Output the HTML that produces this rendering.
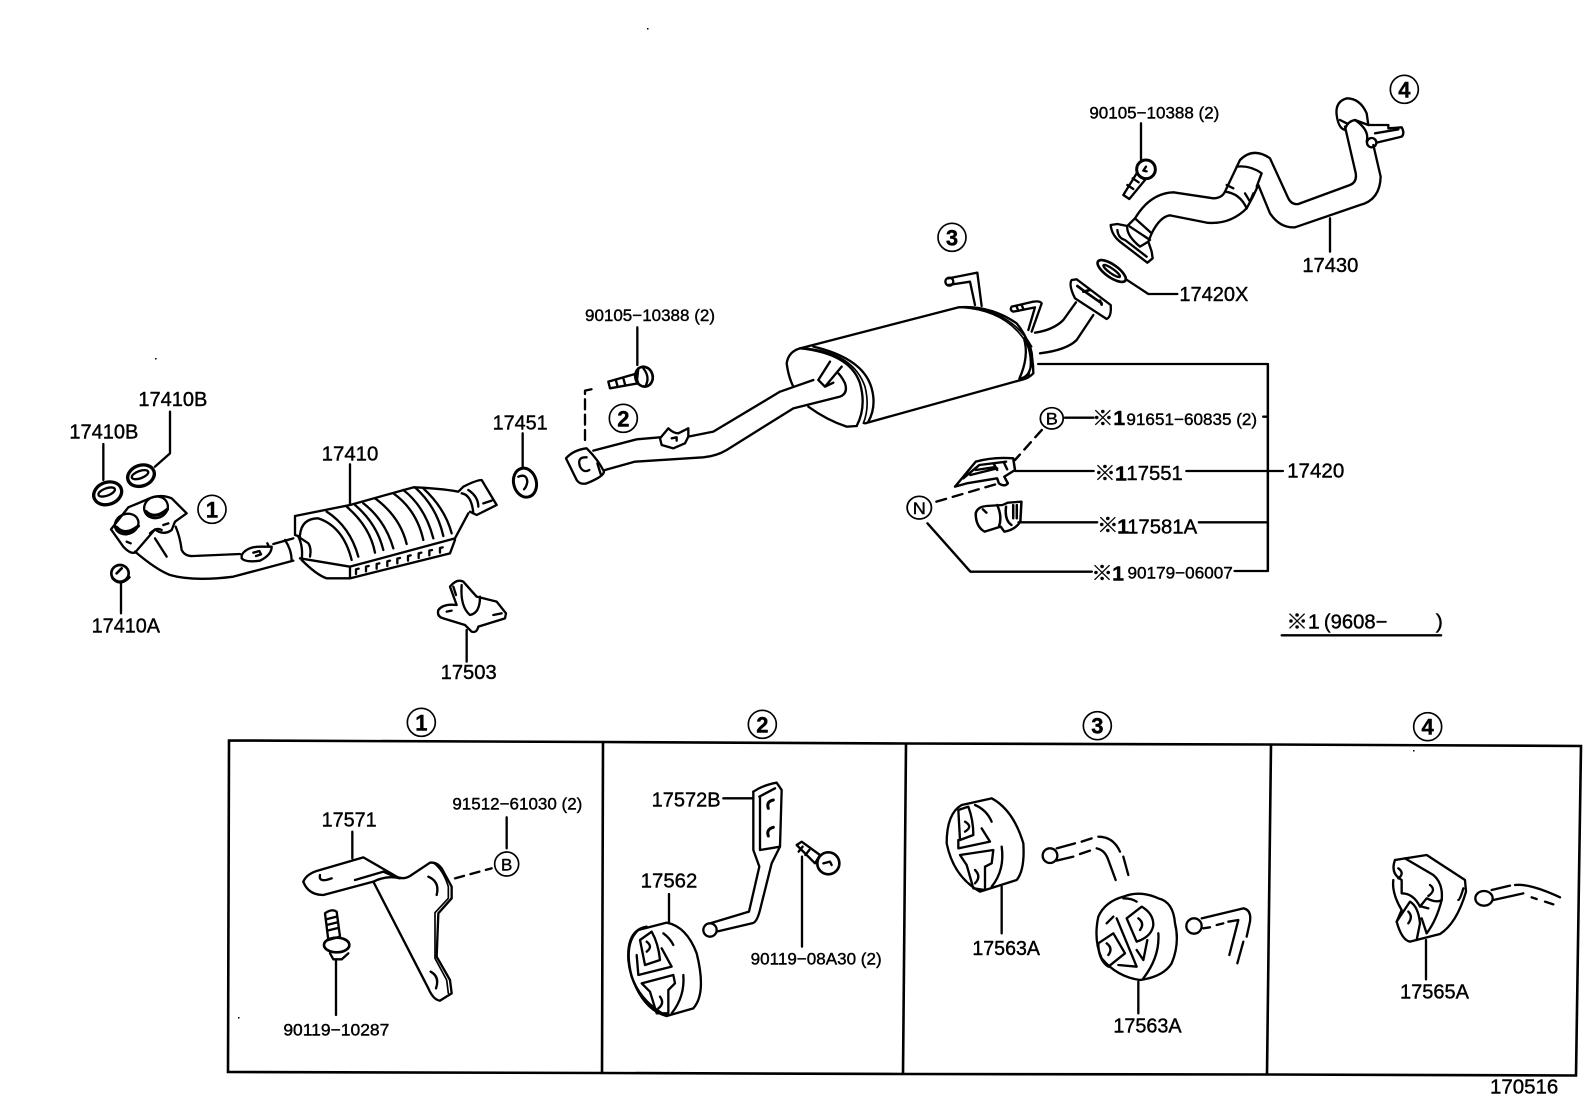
<!DOCTYPE html>
<html><head><meta charset="utf-8"><style>
html,body{margin:0;padding:0;background:#fff;width:1592px;height:1099px;overflow:hidden}
svg{display:block}
.z{fill:none;stroke:#000;stroke-width:7;stroke-linejoin:round;stroke-linecap:round}
.t{stroke-width:5}
text{font-family:"Liberation Sans","Noto Sans CJK JP",sans-serif;fill:#000;stroke:#000;stroke-width:1.2}
.l{font-size:60px}
.s{font-size:51px}
.n{font-size:66px;font-weight:bold;text-anchor:middle}
</style></head><body>
<svg width="1592" height="1099" viewBox="0 0 1592 1099" xmlns="http://www.w3.org/2000/svg">
<rect width="1592" height="1099" fill="#fff"/>

<!-- Frame -->
<g fill="none" stroke="#000" stroke-width="2.6">
<path d="M229 740.5L603 742L905 743.5L1270 744.5L1581 746L1576 1075.5L1268 1074.5L904 1074L602 1073L228 1072Z"/>
<path d="M603 742L602 1073M906 743.5L903 1074M1271 744.5L1267 1074.5"/>
</g>

<!-- Region 1: catalytic converter -->
<g class="z" transform="translate(60,370) scale(.33333)">
<text class="l" x="235" y="108" textLength="207" lengthAdjust="spacingAndGlyphs">17410B</text>
<text class="l" x="28" y="205" textLength="207" lengthAdjust="spacingAndGlyphs">17410B</text>
<text class="l" x="1298" y="178" textLength="165" lengthAdjust="spacingAndGlyphs">17451</text>
<text class="l" x="785" y="272" textLength="170" lengthAdjust="spacingAndGlyphs">17410</text>
<text class="l" x="95" y="788" textLength="205" lengthAdjust="spacingAndGlyphs">17410A</text>
<text class="l" x="1142" y="927" textLength="168" lengthAdjust="spacingAndGlyphs">17503</text>
<path d="M330 125V250L285 290M130 222V330M1388 190V295M870 283V405M183 640V730M1220 780V875"/>
<ellipse cx="143" cy="370" rx="43" ry="33" transform="rotate(-20 143 370)" stroke-width="10"/>
<ellipse cx="140" cy="366" rx="26" ry="11" transform="rotate(-20 140 366)"/>
<ellipse cx="243" cy="317" rx="41" ry="31" transform="rotate(-20 243 317)" stroke-width="10"/>
<ellipse cx="240" cy="314" rx="26" ry="11" transform="rotate(-20 240 314)"/>
<path d="M153 478L205 412Q235 400 262 388Q300 370 335 385L380 430L345 455L335 480Q310 498 285 478L225 548Q210 552 190 530Z"/>
<ellipse cx="200" cy="462" rx="36" ry="30" transform="rotate(-20 200 462)"/>
<ellipse cx="288" cy="412" rx="36" ry="32" transform="rotate(-20 288 412)"/>
<path d="M170 472Q195 500 235 468M258 425Q285 450 322 418" stroke-width="10"/>
<path d="M270 490Q290 470 305 480M200 515l12 5M310 465l15-5"/>
<path d="M347 470Q360 500 365 540Q375 560 400 558L540 552"/>
<path d="M225 545Q290 600 330 615Q400 635 520 620L700 572"/>
<path d="M285 505L320 560"/>
<path d="M545 555Q560 530 600 530L635 530Q635 555 600 572Q555 578 545 565Z"/>
<path d="M580 548l18-5 5 10-15 5M622 520l5 10"/>
<path d="M640 522L700 505M675 510Q695 540 695 572M715 500Q730 530 725 570M715 500L745 520Q755 535 750 560"/>
<path d="M705 438V495L720 500M705 438L870 405L1060 352Q1140 355 1195 365L1210 350Q1250 330 1265 330L1310 405L1250 435L1230 425"/>
<path d="M720 495Q725 445 775 445Q850 470 875 570"/>
<path d="M800 425Q870 470 895 560M860 410Q930 470 945 548M885 405Q950 460 970 540M910 400Q975 450 1000 535M945 385Q1020 440 1040 522M1000 370Q1070 420 1090 510M1030 360Q1095 410 1120 505M1065 352Q1130 410 1150 498M1090 355Q1155 415 1175 490"/>
<path d="M720 565L870 590L1185 505L1225 430M870 590V625L1170 550L1185 510M725 570Q770 615 800 625L870 625"/>
<path d="M888 612V598l8-2M918 604V590l8-2M950 596V582l8-2M982 588V574l8-2M1012 580V566l8-2M1044 572V558l8-2M1076 564V550l8-2M1108 556V542l8-2M1140 548V534l8-2"/>
<path d="M1205 370Q1235 375 1240 430M1225 360Q1255 380 1255 410M1270 400l25-8"/>
<ellipse cx="1395" cy="338" rx="34" ry="44" transform="rotate(-15 1395 338)" stroke-width="9"/>
<path d="M1375 320Q1400 310 1402 335Q1400 350 1392 358"/>
<ellipse cx="180" cy="610" rx="26" ry="25" stroke-width="8"/>
<path d="M158 625Q180 650 208 622M170 610l15-15" stroke-width="8"/>
<path d="M1135 720Q1150 700 1190 705L1170 650Q1190 625 1210 635L1250 680L1310 695L1338 730L1335 745L1255 770Q1250 790 1235 785L1215 765L1150 745Q1130 740 1135 720Z"/>
<path d="M1205 645Q1200 710 1230 735Q1260 730 1260 680M1180 650l8 25M1300 735l25-5M1160 725l15-3"/>
<circle class="t" cx="456" cy="418" r="42"/>
<text class="n" x="456" y="442">1</text>
</g>

<!-- Region 2: mid pipe and muffler -->
<g class="z" transform="translate(540,220) scale(.33333)">
<text class="s" x="135" y="303" textLength="390" lengthAdjust="spacingAndGlyphs">90105−10388 (2)</text>
<path d="M292 322V435"/>
<path d="M205 485L285 462L295 490L210 505Z"/>
<path d="M228 482l5 18M250 475l5 18" />
<ellipse cx="312" cy="470" rx="26" ry="30" transform="rotate(-15 312 470)" stroke-width="8"/>
<path d="M295 445L290 490M310 445Q330 470 318 495"/>
<path d="M135 660V512L168 505" stroke-dasharray="30 16"/>
<circle class="t" cx="250" cy="595" r="42"/>
<text class="n" x="250" y="619">2</text>
<path d="M78 715Q100 690 140 685Q175 720 192 755Q190 770 140 790Q120 795 110 780Z"/>
<path d="M140 712Q110 710 120 740Q130 760 148 750M172 730l10 32"/>
<path d="M160 692L290 658L360 652M445 650L520 635L720 515L820 480"/>
<path d="M195 750L285 725L490 712Q530 708 560 690L760 565L900 530Q925 520 915 490Q905 470 895 460"/>
<path d="M360 655L385 625Q400 640 415 640L445 625L445 650L435 670L400 685L365 675Z"/>
<path d="M395 655l15-3 0 10"/>
<path d="M835 480L870 425M855 500L905 440M835 480L855 500L880 488"/>
<path d="M780 385Q745 395 740 430Q745 470 760 500M805 560Q860 600 920 620L950 618"/>
<path d="M780 385L1255 262Q1350 255 1430 310Q1480 370 1480 460Q1465 475 1450 478L975 610"/>
<path d="M780 385Q930 400 960 490Q980 560 950 618"/>
<path d="M800 385Q940 400 975 500Q990 560 970 610" stroke-width="5"/>
<path d="M820 380Q970 415 995 505Q1010 560 985 605"/>
<path d="M1260 262Q1400 270 1460 370Q1480 420 1465 470" stroke-width="5"/>
<path d="M1290 262Q1420 280 1475 380" stroke-width="5"/>
<path d="M1305 255L1290 185L1225 195M1325 258L1312 158L1225 175"/>
<circle cx="1228" cy="185" r="12"/>
<circle class="t" cx="1236" cy="52" r="42"/>
<text class="n" x="1236" y="76">3</text>
</g>

<!-- Muffler outlet -->
<g class="z" transform="translate(1000,270) scale(.33333)">
<path d="M95 185L125 100Q120 92 100 95L35 110Q28 120 40 125L105 112L85 180"/>
<path d="M50 110l5 12M65 105l5 12"/>
<path d="M105 188Q160 180 190 150L228 97M120 250Q200 240 230 210L280 135"/>
<path d="M215 30Q205 45 225 85L320 147Q335 140 332 105L230 28Z"/>
<path d="M232 48L255 65L305 100M250 65L270 60M300 92l5 12" stroke-width="8"/>
<path d="M72 205Q88 260 58 326M80 210Q110 260 85 310Q75 325 58 326"/>
</g>

<!-- Region 3: tail pipe -->
<g class="z" transform="translate(1040,70) scale(.33333)">
<text class="s" x="148" y="145" textLength="390" lengthAdjust="spacingAndGlyphs">90105−10388 (2)</text>
<text class="l" x="787" y="606" textLength="168" lengthAdjust="spacingAndGlyphs">17430</text>
<text class="l" x="418" y="693" textLength="207" lengthAdjust="spacingAndGlyphs">17420X</text>
<path d="M303 160V270M870 445V545M258 628L325 672H412"/>
<path d="M250 375L290 310L315 330L268 387Z"/>
<path d="M262 345l18 12M278 325l18 12"/>
<circle cx="318" cy="298" r="28" stroke-width="9"/>
<path d="M318 290l-8 12 10 2"/>
<ellipse cx="215" cy="603" rx="50" ry="19" transform="rotate(35 215 603)" stroke-width="8"/>
<ellipse cx="215" cy="603" rx="30" ry="7" transform="rotate(35 215 603)"/>
<path d="M212 465L232 462L262 468M212 465Q215 495 240 515L322 578L338 565L335 545L325 515"/>
<path d="M232 480Q235 505 255 510L320 560"/>
<path d="M262 468Q258 495 300 530L325 515L335 490M285 445L262 468M270 470L330 510M285 445L335 490"/>
<path d="M285 445Q330 370 400 367L520 385Q545 385 555 365L600 270Q640 230 690 265L745 385Q755 405 775 402L930 345Q955 335 945 300L915 170"/>
<path d="M335 490Q360 440 390 436L500 458Q570 465 620 415Q640 380 655 345L690 430Q720 475 765 472L960 405Q1020 390 1022 320L1000 225"/>
<path d="M590 290Q630 285 665 310L650 350M555 365Q600 370 620 415M615 370l15 25 10-25M560 345l20 10"/>
<path d="M980 130Q960 85 920 85Q885 95 890 135Q895 175 915 180Q920 155 945 150L985 165M980 130L985 165"/>
<path d="M985 165L1045 165L1045 175L1085 172Q1095 190 1085 200L1010 218M945 150Q990 180 980 215"/>
<path d="M1005 190L1075 178M900 150l20 10"/>
<circle cx="995" cy="218" r="14" stroke-width="7"/>
<circle class="t" cx="1093" cy="58" r="42"/>
<text class="n" x="1093" y="82">4</text>
</g>

<!-- Region 4: 17420 parts list -->
<g class="z" transform="translate(890,350) scale(.35714,.33333)">
<path d="M415 42H1058V663H965M490 203H570M1045 200H1058M350 363H570M830 363H1100M360 517H580M865 517H1058M105 520L225 665H565"/>
<circle class="t" cx="453" cy="205" r="32"/>
<text class="s" x="453" y="224" text-anchor="middle">B</text>
<circle class="t" cx="82" cy="473" r="34"/>
<text class="s" x="82" y="492" text-anchor="middle">N</text>
<path d="M425 240L350 330M130 455L305 400" stroke-dasharray="28 20"/>
<text class="l" x="1112" y="383" textLength="160" lengthAdjust="spacingAndGlyphs">17420</text>
<text class="l" x="566" y="225">※</text>
<text class="l" x="625" y="225" font-weight="bold">1</text>
<text class="s" x="662" y="225" textLength="366" lengthAdjust="spacingAndGlyphs">91651−60835 (2)</text>
<text class="l" x="572" y="390">※</text>
<text class="l" x="630" y="392" font-weight="bold">1</text>
<text class="l" x="662" y="390" textLength="158" lengthAdjust="spacingAndGlyphs">17551</text>
<text class="l" x="580" y="546">※</text>
<text class="l" x="636" y="550" font-weight="bold">1</text>
<text class="l" x="664" y="550" textLength="196" lengthAdjust="spacingAndGlyphs">17581A</text>
<text class="l" x="564" y="690">※</text>
<text class="l" x="622" y="692" font-weight="bold">1</text>
<text class="s" x="665" y="686" textLength="295" lengthAdjust="spacingAndGlyphs">90179−06007</text>
<text class="l" x="1110" y="835">※</text>
<text class="l" x="1170" y="835">1</text>
<text class="l" x="1215" y="835" textLength="178" lengthAdjust="spacingAndGlyphs">(9608−</text>
<text class="l" x="1528" y="835">)</text>
<path d="M1097 856H1543" stroke-width="7"/>
<path d="M182 410L240 335Q290 320 345 325L350 360L320 380L330 400Q320 412 305 400L300 385L215 400Z"/>
<path d="M205 385L250 345L325 335M225 375L300 355M240 360l50-8M290 340l10 20M320 340l8 18"/>
<path d="M240 490Q245 470 270 468L315 465L330 458L368 455L365 515Q350 540 320 545L310 530L265 545Q240 530 240 490Z"/>
<path d="M300 465Q315 500 305 530M325 470Q320 510 340 525M345 465l0 40M355 465l0 40M260 478l10 10"/>
</g>

<!-- Inset 1 -->
<g class="z" transform="translate(220,710) scale(.33333)">
<circle class="t" cx="604" cy="37" r="42"/>
<text class="n" x="604" y="61">1</text>
<text class="l" x="305" y="350" textLength="165" lengthAdjust="spacingAndGlyphs">17571</text>
<text class="s" x="697" y="298" textLength="390" lengthAdjust="spacingAndGlyphs">91512−61030 (2)</text>
<text class="s" x="190" y="976" textLength="318" lengthAdjust="spacingAndGlyphs">90119−10287</text>
<path d="M397 365V445M860 322V415M348 750V915"/>
<circle class="t" cx="860" cy="462" r="36"/>
<text class="s" x="860" y="481" text-anchor="middle">B</text>
<path d="M705 505L815 475" stroke-dasharray="28 20"/>
<path d="M250 515Q260 490 300 480L430 442L530 500Q550 510 570 498L630 458Q650 455 665 475L695 530L695 565L655 610L650 740L690 810L695 850L660 872Q640 870 625 835L460 515"/>
<path d="M250 515Q265 555 310 555L460 515Q500 495 540 505M405 510L490 485L520 498"/>
<path d="M640 458Q670 480 685 530L685 565L645 608L645 745L680 810L685 850" stroke-width="5"/>
<path d="M625 500Q660 515 650 555M632 785Q660 800 648 835M300 495Q295 520 335 505"/>
<path d="M315 610Q335 595 350 605L360 680L325 690Z"/>
<path d="M318 628l32-8M320 645l32-8M322 662l32-8"/>
<ellipse cx="350" cy="705" rx="38" ry="22" stroke-width="8"/>
<path d="M330 730L340 748H365L385 730"/>
</g>

<!-- Inset 2 -->
<g class="z" transform="translate(600,710) scale(.33333)">
<circle class="t" cx="487" cy="43" r="42"/>
<text class="n" x="487" y="67">2</text>
<text class="l" x="155" y="290" textLength="207" lengthAdjust="spacingAndGlyphs">17572B</text>
<text class="l" x="122" y="533" textLength="170" lengthAdjust="spacingAndGlyphs">17562</text>
<text class="s" x="452" y="763" textLength="393" lengthAdjust="spacingAndGlyphs">90119−08A30 (2)</text>
<path d="M370 265H460M207 552V640M606 440V710"/>
<path d="M460 245Q490 225 530 218L545 240L540 410L515 460L480 600Q470 640 455 640L350 665"/>
<path d="M460 245V420L478 470L447 605L330 640M478 260L525 235M480 420L540 410M480 260V420"/>
<circle cx="330" cy="660" r="20"/>
<path d="M520 270Q498 275 505 295M520 352Q498 358 505 378" stroke-width="9"/>
<path d="M590 405L605 395L660 435L645 460Z"/>
<path d="M608 410l-12 15M628 420l-12 15"/>
<circle cx="685" cy="460" r="33" stroke-width="8"/>
<path d="M670 460l20-5 5 10"/>
<path d="M115 660L200 638Q260 650 290 730Q320 850 280 895L200 918Q130 900 95 800Q70 700 115 660Z"/>
<path d="M140 650Q80 660 85 750Q95 860 200 918"/>
<path d="M120 690L155 665Q175 700 180 750L135 765Z"/>
<path d="M110 735L115 795L215 770L185 715"/>
<path d="M125 820L220 795L225 820L205 840L205 910L170 910L150 845Z"/>
<path d="M250 795Q255 860 215 910M190 670Q210 685 220 705M140 695Q160 710 140 725M180 860Q195 880 175 895"/>
</g>

<!-- Inset 3 -->
<g class="z" transform="translate(910,710) scale(.33333)">
<circle class="t" cx="562" cy="47" r="42"/>
<text class="n" x="562" y="71">3</text>
<text class="l" x="187" y="735" textLength="203" lengthAdjust="spacingAndGlyphs">17563A</text>
<text class="l" x="610" y="967" textLength="205" lengthAdjust="spacingAndGlyphs">17563A</text>
<path d="M275 530V670M685 815V910"/>
<path d="M155 285L245 265Q310 300 340 400Q345 480 320 510L210 545Q130 500 110 400Q110 310 155 285Z"/>
<path d="M145 300L175 290Q190 330 190 375L150 390Z"/>
<path d="M145 390V415L240 395L215 355M150 435L250 420L245 460L225 470L225 540L190 535L170 465Z"/>
<path d="M275 410Q285 480 245 530M195 285Q230 300 245 335M165 335Q190 350 165 365M195 480Q215 500 195 520"/>
<circle cx="420" cy="437" r="22"/>
<path d="M440 415L495 400M515 395L545 385M565 380Q610 380 630 425M640 440L655 495M440 452L490 440M510 432L540 422M560 415Q585 420 595 450L617 510"/>
<path d="M640 560Q690 540 745 565Q790 575 795 640Q810 700 785 760Q760 800 690 810Q620 800 575 745Q550 690 565 620Q585 575 640 560ZM640 565Q665 565 680 575"/>
<path d="M650 625L695 590Q730 610 730 645Q725 680 680 695Z"/>
<path d="M565 700L610 670L645 730L595 770Q565 750 565 700Z"/>
<path d="M620 625L680 770L625 765M745 670Q750 740 700 805M590 640L610 620M680 720L700 750L712 690M685 625Q705 640 690 660M590 700Q610 715 595 735"/>
<circle cx="852" cy="648" r="23"/>
<path d="M875 625L1000 595Q1025 600 1020 635L1010 680M1000 695L982 760M880 655l20-3M920 645l20-5M955 635L985 630L958 735"/>
</g>

<!-- Inset 4 -->
<g class="z" transform="translate(1270,710) scale(.33333)">
<circle class="t" cx="473" cy="50" r="42"/>
<text class="n" x="473" y="74">4</text>
<text class="l" x="390" y="865" textLength="207" lengthAdjust="spacingAndGlyphs">17565A</text>
<text class="l" x="660" y="1150" textLength="205" lengthAdjust="spacingAndGlyphs">170516</text>
<path d="M468 690V808"/>
<path d="M375 450L470 435L585 510L588 545Q560 640 510 672L420 695Q395 690 380 635L395 600Q365 550 370 510"/>
<path d="M375 450Q360 490 395 510L395 550Q430 550 450 590L470 565Q500 580 515 570Q520 520 490 495L405 445"/>
<path d="M380 635L420 575Q445 590 450 640L440 690M455 625L470 670Q500 630 515 570M455 590L475 595M580 535Q570 570 565 570"/>
<path d="M385 475Q405 490 385 505M480 525Q500 540 475 558M415 605Q430 620 415 640"/>
<ellipse cx="642" cy="565" rx="26" ry="22"/>
<path d="M665 540L720 527M735 525Q780 520 870 562M670 570L760 550M785 562l15 5M825 575l25 8"/>
</g>

<g fill="#000">
<rect x="647" y="28" width="1.5" height="1.5"/>
<rect x="155" y="358" width="1.5" height="1.5"/>
<rect x="238" y="1017" width="1.5" height="1.5"/>
<rect x="1413" y="750" width="1.5" height="1.5"/>
</g>
</svg>
</body></html>
